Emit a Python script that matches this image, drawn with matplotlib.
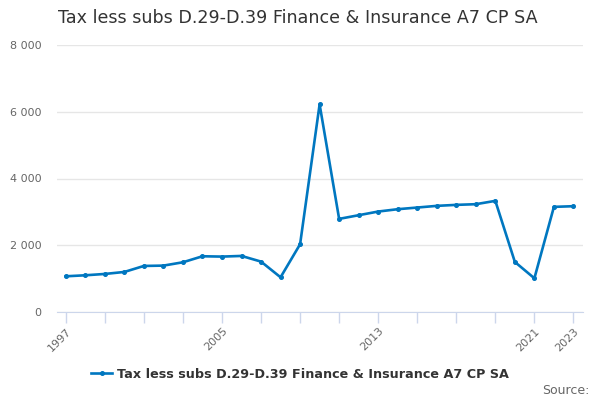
import matplotlib
matplotlib.use("Agg")
import matplotlib.pyplot as plt
from matplotlib.lines import Line2D

years = list(range(1997, 2024))
values = [1070, 1100, 1140, 1200, 1380, 1390, 1490, 1670, 1660, 1680, 1510, 1040, 2030,
          6220, 2790, 2900, 3010, 3080, 3130, 3180, 3210, 3230, 3330, 1500, 1010, 3150, 3170]
series_name = "Tax less subs D.29-D.39 Finance & Insurance A7 CP SA"
title = "Tax less subs D.29-D.39 Finance & Insurance A7 CP SA"
x_labels = {1997: "1997", 2005: "2005", 2013: "2013", 2021: "2021", 2023: "2023"}
y_ticks = [0, 2000, 4000, 6000, 8000]

line_color = "#0077c0"

fig = plt.figure(figsize=(6, 4), dpi=100)
ax = fig.add_axes([0.095, 0.22, 0.877, 0.6675])

ax.plot(years, values, color=line_color, lw=1.9, marker="o", ms=2.6, zorder=3)

ax.set_xlim(1996.55, 2023.5)
ax.set_ylim(0, 8000)

ax.set_yticks(y_ticks)
ax.set_yticklabels([f"{v:,}".replace(",", " ") for v in y_ticks])
ax.grid(axis="y", color="#e6e6e6", lw=1)
ax.set_axisbelow(True)

xt = list(range(1997, 2024, 2))
ax.set_xticks(xt)
ax.set_xticklabels([x_labels.get(y, "") for y in xt], rotation=45, ha="right",
                   rotation_mode="anchor")

for s in ["top", "right", "left"]:
    ax.spines[s].set_visible(False)
ax.spines["bottom"].set_color("#ccd6eb")
ax.tick_params(axis="x", colors="#666666", length=8, width=1, labelsize=8, pad=2)
ax.tick_params(axis="x", color="#ccd6eb")
ax.tick_params(axis="y", colors="#666666", length=0, labelsize=8, pad=11)

fig.text(0.097, 0.955, title, fontsize=12.6, color="#333333", va="center", ha="left")

handle = Line2D([], [], color=line_color, lw=1.9, marker="o", ms=2.6)
fig.legend([handle], [series_name], loc="center", bbox_to_anchor=(0.5, 0.065),
           frameon=False, prop={"weight": "bold", "size": 9.2}, handlelength=1.6,
           handletextpad=0.4, labelcolor="#333333")

fig.text(0.982, 0.025, "Source:", fontsize=9, color="#666666", ha="right", va="center")

fig.savefig("out.png", dpi=100)
